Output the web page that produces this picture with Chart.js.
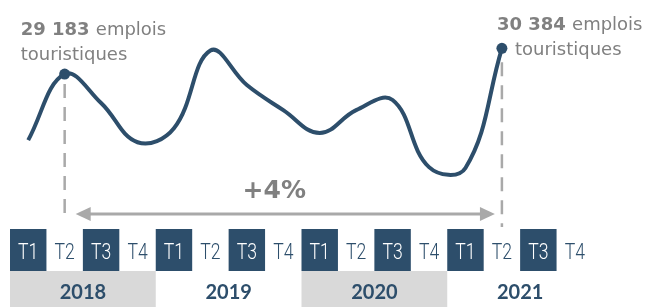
<!DOCTYPE html>
<html>
<head>
<meta charset="utf-8">
<script src="https://cdn.jsdelivr.net/npm/chart.js@4"></script>
<style>
  body { margin: 0; background: #fff; }
  canvas { display: block; }
</style>
</head>
<body>
<canvas id="emplois-chart" width="646" height="307"></canvas>
<script>
const quarters = ["T1", "T2", "T3", "T4", "T1", "T2", "T3", "T4",
                  "T1", "T2", "T3", "T4", "T1", "T2", "T3", "T4"];
const years = ["2018", "2019", "2020", "2021"];
const emplois = [26100, 29183, 27830, 26000, 26650, 30280, 28670, 27500,
                 26430, 27500, 27970, 24840, 24800, 30384, null, null];
const highlights = [1, 13];
const evolution = "+4%";

const BLUE = "#2d4e6b";
const GREY_TEXT = "#808080";
const GREY_LINE = "#a9a9a9";
const FONT = "'DejaVu Sans', sans-serif";

function fmt(v) {
  return v.toString().replace(/\B(?=(\d{3})+(?!\d))/g, " ");
}

const decorPlugin = {
  id: "decor",
  beforeDatasetsDraw: function (chart) {
    const ctx = chart.ctx;
    const x = chart.scales.x;
    const y = chart.scales.y;
    const w = (x.right - x.left) / quarters.length;

    // quarter cells (text squeezed to look condensed)
    ctx.save();
    ctx.textAlign = "center";
    ctx.textBaseline = "alphabetic";
    ctx.font = "300 22px Roboto, sans-serif";
    for (let i = 0; i < quarters.length; i++) {
      const cx = x.getPixelForValue(i);
      ctx.fillStyle = BLUE;
      if (i % 2 === 0) {
        ctx.fillRect(cx - w / 2, 229, w, 42);
        ctx.fillStyle = "#ffffff";
      }
      ctx.save();
      ctx.translate(cx, 259);
      ctx.scale(0.8, 1);
      ctx.fillText(quarters[i], 0, 0);
      ctx.restore();
    }

    // year bands
    ctx.font = "bold 20px Lato, sans-serif";
    for (let k = 0; k < years.length; k++) {
      const left = x.getPixelForValue(k * 4) - w / 2;
      if (k % 2 === 0) {
        ctx.fillStyle = "#d9d9d9";
        ctx.fillRect(left, 271, w * 4, 36);
      }
      ctx.fillStyle = BLUE;
      ctx.fillText(years[k], left + w * 2, 299);
    }

    // dashed drop lines
    ctx.strokeStyle = GREY_LINE;
    ctx.lineWidth = 2.5;
    ctx.setLineDash([14, 9]);
    const p0 = x.getPixelForValue(highlights[0]);
    const p1 = x.getPixelForValue(highlights[1]);
    ctx.beginPath();
    ctx.moveTo(p0, y.getPixelForValue(emplois[highlights[0]]) + 10);
    ctx.lineTo(p0, 222);
    ctx.moveTo(p1, y.getPixelForValue(emplois[highlights[1]]) + 14);
    ctx.lineTo(p1, 227);
    ctx.stroke();
    ctx.setLineDash([]);

    // double arrow
    const ay = 214;
    const a0 = p0 + 11;
    const a1 = p1 - 7;
    ctx.lineWidth = 3;
    ctx.beginPath();
    ctx.moveTo(a0 + 10, ay);
    ctx.lineTo(a1 - 10, ay);
    ctx.stroke();
    ctx.fillStyle = GREY_LINE;
    ctx.beginPath();
    ctx.moveTo(a0, ay);
    ctx.lineTo(a0 + 15, ay - 7);
    ctx.lineTo(a0 + 15, ay + 7);
    ctx.closePath();
    ctx.fill();
    ctx.beginPath();
    ctx.moveTo(a1, ay);
    ctx.lineTo(a1 - 15, ay - 7);
    ctx.lineTo(a1 - 15, ay + 7);
    ctx.closePath();
    ctx.fill();

    ctx.fillStyle = GREY_TEXT;
    ctx.textAlign = "center";
    ctx.font = "bold 25px " + FONT;
    ctx.fillText(evolution, (a0 + a1) / 2 - 11, 198);

    // value labels
    ctx.textAlign = "left";
    const labelPos = [
      { dx: -44, dy: -39, dx2: -44, dy2: -14 },
      { dx: -5, dy: -18, dx2: 13, dy2: 7 },
    ];
    highlights.forEach(function (idx, n) {
      const px = x.getPixelForValue(idx);
      const py = y.getPixelForValue(emplois[idx]);
      const pos = labelPos[n];
      const bold = fmt(emplois[idx]);
      ctx.font = "bold 18px " + FONT;
      ctx.fillText(bold, px + pos.dx, py + pos.dy);
      const bw = ctx.measureText(bold + " ").width;
      ctx.font = "18px " + FONT;
      ctx.fillText("emplois", px + pos.dx + bw, py + pos.dy);
      ctx.fillText("touristiques", px + pos.dx2, py + pos.dy2);
    });
    ctx.restore();
  },
};

new Chart(document.getElementById("emplois-chart"), {
  type: "line",
  data: {
    labels: quarters,
    datasets: [
      {
        data: emplois,
        borderColor: BLUE,
        backgroundColor: BLUE,
        borderWidth: 4,
        tension: 0.4,
        fill: false,
        pointRadius: function (c) {
          return highlights.includes(c.dataIndex) ? 5.5 : 0;
        },
        pointBorderWidth: 0,
        pointHoverRadius: 0,
      },
    ],
  },
  options: {
    responsive: false,
    animation: false,
    layout: { padding: { left: 10, right: 53, top: 0, bottom: 78 } },
    plugins: { legend: { display: false }, tooltip: { enabled: false } },
    scales: {
      x: { display: false, offset: true },
      y: { display: false, min: 21950, max: 32640 },
    },
  },
  plugins: [decorPlugin],
});
</script>
</body>
</html>
